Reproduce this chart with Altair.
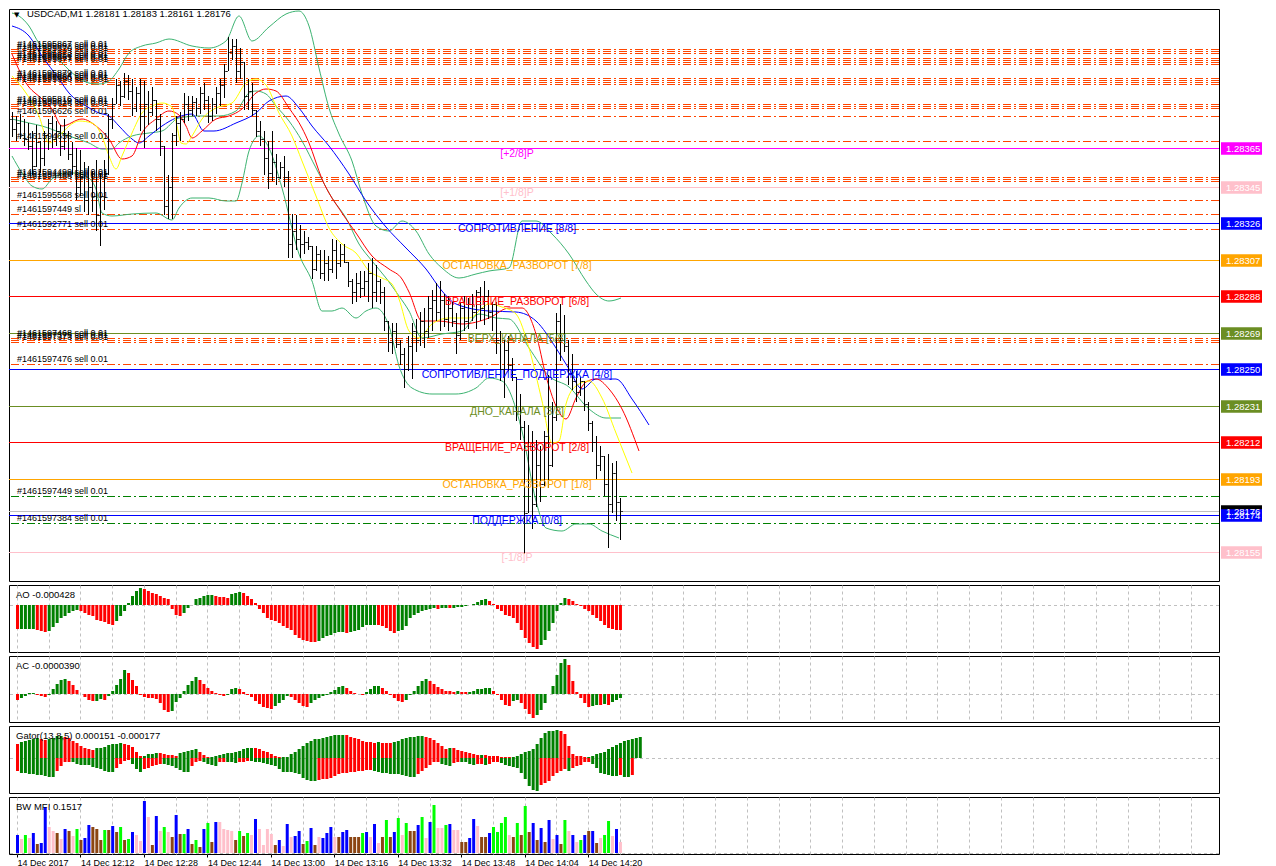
import altair as alt
import pandas as pd

FONT = "Liberation Sans"
BASE = 1.28          # price = BASE + points * PT
PT = 0.00001
MICRO = 0.000001     # indicator values are given in millionths

# ---------------- price bars (points above 1.28000) ----------------
open_pts = [380,375,378,372,370,366,356,368,360,372, 378,370,374,366,372,362,356,345,350,338,
            345,340,330,340,352,380,388,398,392,400, 395,386,394,382,388,384,390,380,366,335,
            345,372,378,380,388,385,389,386,394,390, 382,388,394,398,405,415,418,405,410,392,
            395,385,374,370,360,352,358,350,355,350, 315,322,318,315,316,314,302,310,300,305,
            302,312,305,310,306,296,290,295,292,296, 300,290,296,290,275,264,270,263,258,250,
            262,270,265,275,270,282,286,280,286,276, 282,275,268,282,275,284,280,290,282,288,
            280,284,265,250,260,252,246,228,220,175, 210,180,200,190,215,200,225,275,265,262,
            248,244,238,244,232,222,212,200,205,190, 180,196,181]
high_pts = [384,382,383,380,378,374,377,369,374,380, 382,379,377,380,374,368,365,364,358,356,
            353,359,352,359,383,391,401,400,404,403, 401,397,401,400,395,397,390,383,366,351,
            373,382,384,394,392,392,391,397,399,392, 391,397,401,409,423,422,422,417,410,401,
            399,385,379,374,369,374,362,358,361,353, 331,330,325,322,319,314,314,312,312,309,
            318,317,315,315,306,297,300,301,301,305, 308,304,297,293,275,274,274,265,261,267,
            274,276,280,282,288,291,295,296,289,288, 285,279,285,288,287,289,291,293,296,291,
            285,285,270,265,267,256,246,237,223,221, 218,213,210,218,247,233,279,284,278,265,
            258,249,246,244,233,223,215,210,205,206, 201,202,183]
low_pts = [371,369,370,366,364,351,355,352,356,364, 365,366,361,364,359,351,338,340,332,330,
           332,322,314,333,351,375,388,387,391,390, 382,384,374,365,377,382,374,361,330,328,
           328,366,369,378,379,382,382,383,385,378, 379,383,387,391,405,411,399,401,385,385,
           382,371,366,351,344,348,346,349,345,308, 308,312,308,310,312,297,301,297,296,296,
           300,297,303,305,293,284,285,287,288,285, 282,285,284,270,259,258,261,252,240,249,
           245,259,262,261,266,270,275,270,272,270, 272,258,265,270,271,275,271,275,273,276,
           270,258,244,235,249,244,223,213,154,175, 167,178,181,189,188,199,223,254,259,242,
           239,233,236,228,218,207,193,197,184,157, 175,171,161]
close_pts = [375,378,372,370,366,356,368,360,372,378, 370,374,366,372,362,356,345,350,338,345,
             340,330,340,352,380,388,398,392,400,395, 386,394,382,388,384,390,380,366,335,345,
             372,378,380,388,385,389,386,394,390,382, 388,394,398,405,415,418,405,410,392,395,
             385,374,370,360,352,358,350,355,350,315, 322,318,315,316,314,302,310,300,305,302,
             312,305,310,306,296,290,295,292,296,300, 290,296,290,275,264,270,263,258,250,262,
             270,265,275,270,282,286,280,286,276,282, 275,268,282,275,284,280,290,282,288,280,
             284,265,250,260,252,246,228,220,175,210, 180,200,190,215,200,225,275,265,262,248,
             244,238,244,232,222,212,200,205,190,180, 196,181,176]

# ---------------- indicator lines on the price chart (bar index, points) ----------------
blue_t = [0,4.25,7.5,11.75,14.25,18.5,21.75,24.25,26.75,30,31.75,34.25,37.5,41,45,48,50.5,56,61,64.25,
          68.5,71.75,75,79.25,84.25,88.5,93.5,98.5,103.5,107.5,111,119.25,126,131,136,139.25,142.5,146,151,155,159.25]
blue_pts = [428.6,423.4,413.0,401.1,393.8,387.0,383.4,381.8,376.6,369.8,367.7,371.4,376.6,380.7,382.8,374.0,374.0,378.1,383.4,389.6,
            392.2,386.0,376.6,366.2,351.6,337.5,324.0,313.1,302.1,290.7,284.0,280.3,279.8,275.1,261.0,250.1,239.6,244.9,244.9,234.4,220.9]
red_t = [0,3.5,7.5,10,12.5,17.5,21,24.25,27.5,30,32.5,36,39.25,41.75,43.5,45,47.5,51,54.25,57.5,
         61,63.5,66,69.25,72.5,74.25,77.5,82.5,86,90,94.25,97.5,99.25,102.5,106.75,112.5,119.25,124.25,127.5,131,
         133.5,136,138.5,141,143.5,146,149.25,152.5,156.75]
red_pts = [414.1,399.0,390.6,385.4,376.6,380.2,376.6,369.8,359.4,361.0,372.9,380.2,384.4,382.3,376.6,370.3,374.0,380.2,381.8,385.4,
           393.8,395.8,394.8,386.0,375.5,367.7,349.0,331.3,320.9,308.9,302.1,296.9,290.0,275.1,275.1,273.5,276.6,281.8,281.8,268.3,
           246.4,230.8,224.0,235.0,243.3,244.9,239.7,229.3,207.4]
yellow_t = [0,3.5,6.75,9.25,11.75,14.25,16.75,20,22.5,24.25,26,27.5,30,32.5,35,37.5,40,41.25,42.25,43.5,
            45,47.5,51,55,58.5,61,63.5,66.75,70,72.5,76,79.25,82.5,86,89.25,92.5,95,96.75,99.25,101.75,
            105,109.25,114.25,119.25,122.5,126,129.25,132.5,135,136.75,138.5,141,144.25,147.5,151,155]
yellow_pts = [402.6,393.8,381.8,367.7,371.4,376.6,379.2,378.1,371.4,361.0,354.2,361.0,372.9,383.4,387.0,388.6,386.5,376.6,367.7,367.2,
              371.4,380.2,386.0,388.6,399.0,401.1,397.9,383.4,371.4,358.4,340.1,323.5,315.2,310.5,301.1,297.5,294.3,286.5,269.9,266.2,
              273.5,276.6,276.6,283.9,282.4,278.7,261.0,233.4,211.6,212.6,231.9,241.2,243.8,235.0,216.8,195.9]
bb_up_t = [0,1.75,4.25,6.75,9.25,12.5,16,19.25,21.75,24.25,26.75,29.25,32.5,36,39.25,45,49.25,53.5,56.75,60,
           64.25,68.5,71.75,74.25,76.75,79.25,81.75,85,87.5,91,94.25,97.5,101,104.25,107.5,111.75,116,119.25,124.25,127.5,
           131,135,139.25,143.5,146,149.25,152.25]
bb_up_pts = [435.4,433.9,428.6,419.8,416.7,409.4,402.6,399.0,398.4,400.0,406.3,414.6,418.2,419.8,421.9,418.2,417.2,420.8,433.9,420.8,
             428.1,434.9,436.5,428.6,406.8,386.0,372.4,358.4,341.2,324.5,321.9,327.1,321.9,309.9,302.7,297.5,299.5,301.1,302.7,327.1,
             327.1,320.4,309.9,295.9,289.1,285.5,287.0]
bb_mid_t = [0,4.25,7.5,14.25,19.25,22.5,25,26.75,30,34.25,37.5,41.75,46.75,51.75,56,59.25,61,63.5,66,69.25,
            72.5,76,80,83.5,86.75,90,93.5,96.75,99.25,102.5,107.5,112.5,116.75,121,124.25,129.25,134.25,139.25,144.25,148.5,152.25]
bb_mid_pts = [380.2,378.1,376.6,371.4,367.7,364.6,364.6,367.7,371.4,372.9,374.0,380.7,381.8,381.8,384.4,393.8,394.8,393.2,387.0,379.2,
              368.8,354.7,339.1,328.7,315.2,306.3,297.5,288.1,280.3,266.2,268.3,269.9,278.7,276.6,276.1,261.0,246.4,240.7,229.3,224.6,224.6]
bb_lo_t = [0,2.5,5,7.5,10,13.5,16,18.5,21,22.5,25,30,36,40,41.75,45,49.25,53.5,56,57.5,
           59.25,61.75,64.25,67.5,71.75,75,77.5,80,82.5,86,88.5,91,94.25,96.75,100,105,111,116,119.25,122.5,
           127.5,131,133.5,137.5,141,144.25,147.5,151.75]
bb_lo_pts = [361.0,352.1,345.3,343.8,349.0,352.1,352.1,350.6,343.8,331.3,329.7,330.8,331.3,327.6,333.9,339.1,339.1,337.5,337.5,346.9,
             363.6,371.4,365.1,344.3,310.0,295.9,280.3,280.3,281.8,276.6,280.3,281.8,272.5,251.6,240.2,237.1,237.1,240.2,245.4,243.8,
             217.8,181.4,167.3,165.7,169.4,169.4,165.7,162.1]

# ---------------- Murrey levels ----------------
level_names = ["[+2/8]P", "[+1/8]P", "СОПРОТИВЛЕНИЕ [8/8]", "ОСТАНОВКА_РАЗВОРОТ [7/8]", "ВРАЩЕНИЕ_РАЗВОРОТ [6/8]",
               "ВЕРХ_КАНАЛА [5/8]", "СОПРОТИВЛЕНИЕ_ПОДДЕРЖКА [4/8]", "ДНО_КАНАЛА [3/8]", "ВРАЩЕНИЕ_РАЗВОРОТ [2/8]",
               "ОСТАНОВКА_РАЗВОРОТ [1/8]", "ПОДДЕРЖКА [0/8]", "[-1/8]P"]
level_prices = [1.28365, 1.28345, 1.28326, 1.28307, 1.28288, 1.28269, 1.28250, 1.28231, 1.28212, 1.28193, 1.28174, 1.28155]
level_colors = ["#FF00FF", "#FFC0CB", "#0000FF", "#FFA500", "#FF0000", "#6B8E23", "#0000FF", "#6B8E23", "#FF0000",
                "#FFA500", "#0000FF", "#FFC0CB"]
current_price = 1.28176

# ---------------- order lines ----------------
order_pts = [416.7, 415.6, 414.6, 412.0, 411.0, 409.9, 408.9, 401.6, 400.5, 399.5, 398.5, 388.0, 387.0, 386.0,
             381.8, 368.8, 350.0, 349.0, 348.0, 338.1, 330.8, 323.0, 266.2, 265.2, 264.1, 252.7, 184.0, 169.9]
order_labels = ["#1461595867 sell 0.01", "#1461595862 sell 0.01", "#1461595870 sell 0.01", "#1461595873 sell 0.01",
                "#1461595858 sell 0.01", "#1461595861 sell 0.01", "#1461595877 sell 0.01", "#1461595879 sell 0.01",
                "#1461595884 sell 0.01", "#1461595886 sell 0.01", "#1461595890 sell 0.01", "#1461595816 sell 0.01",
                "#1461595819 sell 0.01", "#1461596626 sell 0.01", "#1461596626 sell 0.01", "#1461594658 sell 0.01",
                "#1461594499 sell 0.01", "#1461594480 sell 0.01", "#1461594488 sell 0.01", "#1461595568 sell 0.01",
                "#1461597449 sl", "#1461592771 sell 0.01", "#1461597468 sell 0.01", "#1461597375 sell 0.01",
                "#1461597373 sell 0.01", "#1461597476 sell 0.01", "#1461597449 sell 0.01", "#1461597384 sell 0.01"]
order_kind = ["sell"] * 26 + ["tp", "tp"]

# ---------------- sub-window indicators (millionths) ----------------
ao = [-405,-400,-399,-398,-396,-416,-445,-462,-445,-371, -302,-217,-177,-131,-103,-86,-103,-131,-160,-188,
      -245,-274,-291,-314,-331,-274,-188,-103,40,154, 239,279,268,239,194,182,154,125,97,-74,
      -160,-188,-131,-46,-6,97,125,154,165,177, 154,143,142,125,182,194,211,200,154,108,
      29,-74,-131,-217,-245,-274,-302,-348,-388,-428, -502,-559,-587,-599,-616,-621,-599,-559,-530,-502,
      -473,-462,-461,-467,-456,-445,-416,-371,-342,-331, -330,-336,-348,-388,-445,-473,-445,-416,-359,-217,
      -160,-131,-103,-86,-63,-51,-63,-51,-46,-51, -46,-40,-29,-17,-6,23,51,85,97,68,
      11,-74,-103,-160,-188,-217,-302,-416,-559,-644, -701,-741,-673,-587,-445,-302,-103,40,125,97,
      68,11,-17,-74,-103,-160,-217,-274,-331,-388, -410,-420,-428]
ac = [-56,-40,-23,7,13,-7,-20,-33,-7,53, 99,142,152,125,86,43,0,-33,-56,-73,
      -66,-46,-59,-23,26,92,152,241,208,142, 76,-7,-33,-40,-41,-46,-89,-155,-182,-172,
      -79,-40,33,92,132,165,142,99,59,26, 7,-7,-17,-7,53,56,46,20,-7,-33,
      -66,-99,-125,-139,-145,-122,-89,-56,-23,-26, -56,-89,-119,-132,-92,-59,-40,-23,-7,20,
      43,73,82,59,26,13,3,-7,20,53, 76,79,59,33,-7,-40,-73,-79,-56,-7,
      33,79,125,148,125,99,73,53,33,26, 20,26,20,17,23,33,46,53,59,63,
      26,-13,-59,-106,-119,-73,-59,-92,-145,-198, -238,-211,-155,-89,0,76,191,307,343,290,
      125,20,-40,-92,-125,-119,-106,-109,-96,-106, -79,-56,-39]
gator_up = [143,171,177,188,194,205,194,188,201,211, 228,229,222,211,177,153,126,99,92,85,
            99,109,119,133,143,150,153,150,133,119, 58,24,25,38,44,48,47,41,34,31,
            24,51,65,75,85,92,58,31,7,14, 24,31,38,48,51,58,75,92,99,106,
            99,92,75,58,41,24,7,10,14,41, 65,92,126,153,174,194,201,211,222,228,
            235,239,242,235,222,211,194,181,171,167, 160,168,161,157,153,167,177,194,208,218,
            222,225,228,222,211,188,160,126,92,109, 99,85,72,58,48,41,31,34,30,24,
            23,17,14,10,7,14,24,38,58,75, 92,143,211,263,280,286,290,280,246,126,
            41,24,17,7,14,24,38,51,65,92, 119,140,151,174,188,201,211,215]
gator_dn = [-135,-152,-159,-170,-171,-172,-181,-188,-195,-196, -135,-81,-46,-39,-46,-64,-74,-75,-76,-89,
            -99,-117,-135,-145,-146,-99,-64,-28,-18,-64, -117,-145,-117,-99,-81,-74,-64,-65,-74,-81,
            -99,-124,-145,-146,-81,-46,-28,-46,-64,-74, -81,-46,-39,-40,-46,-53,-46,-39,-28,-29,
            -39,-46,-53,-64,-74,-81,-117,-145,-146,-147, -152,-170,-205,-230,-241,-242,-230,-223,-216,-205,
            -188,-170,-159,-152,-145,-142,-138,-135,-127,-124, -135,-145,-152,-159,-166,-170,-171,-181,-188,-195,
            -198,-170,-135,-99,-74,-46,-39,-64,-74,-81, -53,-39,-40,-46,-64,-74,-64,-60,-71,-64,
            -46,-39,-53,-74,-81,-89,-99,-152,-223,-294, -329,-347,-276,-258,-241,-188,-152,-135,-117,-135,
            -99,-81,-74,-46,-39,-64,-99,-152,-170,-181, -188,-189,-177,-195,-200,-180]
bw_mfi = [0.2415,0.1888,0.2415,0.1976,0.2678,0.1229,0.1361,0.6058,0.3424,0.2985,
          0.2634,0.1888,0.3205,0.2985,0.2327,0.3205,0.1756,0.2019,0.3732,0.3512,
          0.3161,0.1756,0.3073,0.3073,0.3600,0.2766,0.3424,0.1756,0.1888,0.2766,
          0.2415,0.1668,0.6848,0.4741,0.1141,0.4917,0.2985,0.3424,0.2766,0.2107,
          0.5049,0.2546,0.2546,0.3161,0.1229,0.1756,0.0790,0.3161,0.3995,0.1493,
          0.4127,0.4127,0.3161,0.3073,0.2985,0.1756,0.2897,0.2283,0.2722,0.2415,
          0.4478,0.3161,0.1141,0.3161,0.2546,0.1141,0.1756,0.1010,0.3907,0.2195,
          0.2283,0.2985,0.1229,0.1580,0.3336,0.1141,0.2107,0.2063,0.2722,0.3512,
          0.2151,0.2107,0.2766,0.3073,0.2107,0.2107,0.2107,0.2634,0.2766,0.2107,0.3863,
          0.1405,0.2195,0.4390,0.2107,0.2766,0.4653,0.2415,0.3995,0.2985,0.2985,
          0.3732,0.4829,0.1976,0.4127,0.6409,0.3336,0.3336,0.3775,0.3863,0.3073,
          0.3073,0.1537,0.1537,0.1976,0.4522,0.3644,0.2107,0.2107,0.2722,0.3468,
          0.2854,0.3995,0.4785,0.2415,0.2107,0.3995,0.2415,0.6278,0.2766,0.3995,
          0.1800,0.3293,0.1493,0.4390,0.1888,0.2415,0.1229,0.4390,0.2897,0.2415,
          0.1493,0.1756,0.2415,0.2897,0.2897,0.1361,0.1976,0.2415,0.4258,0.2283,
          0.3161,0.1517]
bw_kind = ["B","P","G","P","B","N","B","B","P","P", "N","P","B","N","P","G","N","B","B","N",
           "N","N","G","N","B","N","G","N","G","B", "P","P","B","P","N","B","P","G","P","N",
           "B","N","G","B","N","G","N","B","G","N", "B","P","P","P","P","N","G","N","G","P",
           "B","P","P","P","P","N","B","P","B","P", "B","B","N","G","B","N","P","B","B","B",
           "P","N","B","B","N","N","N","G","B","P","B", "P","N","G","N","B","G","P","G","N","N",
           "B","G","P","B","G","P","P","G","B","P", "P","N","N","B","B","P","N","N","B","G",
           "G","G","G","P","N","G","N","G","N","B", "N","B","N","B","P","B","N","G","P","B",
           "P","G","B","N","B","N","P","G","G","P", "B","P"]

time_tick_bars = [0, 16, 32, 48, 64, 80, 96, 112, 128, 144]
time_tick_text = ["14 Dec 2017", "14 Dec 12:12", "14 Dec 12:28", "14 Dec 12:44", "14 Dec 13:00",
                  "14 Dec 13:16", "14 Dec 13:32", "14 Dec 13:48", "14 Dec 14:04", "14 Dec 14:20"]
price_ticks = [1.28145, 1.28165, 1.28185, 1.28205, 1.28225, 1.28245, 1.28265, 1.28285,
               1.28305, 1.28325, 1.28345, 1.28365, 1.28385, 1.28405, 1.28425]

title_main = "USDCAD,M1  1.28181 1.28183 1.28161 1.28176"
title_ao = "AO -0.000428"
title_ac = "AC -0.0000390"
title_gt = "Gator(13,8,5) 0.000151 -0.000177"
title_bw = "BW MFI 0.1517"

# ---------------- layout ----------------
W = 1210
H_MAIN, H_AO, H_AC, H_GT, H_BW = 572, 67, 66, 67, 57
XDOM = [-0.75, 301.75]
GRID_STEP = 8
grid_vals = list(range(0, 302, GRID_STEP))
GRID = "#C0C0C0"

xs = alt.Scale(domain=XDOM, nice=False, zero=False)


def price(v):
    return round(BASE + v * PT, 7)


def lab_expr(pos, txt):
    expr = "'" + txt[-1] + "'"
    for k in range(len(pos) - 2, -1, -1):
        thr = (pos[k] + pos[k + 1]) / 2
        expr = "datum.value > %r ? '%s' : (%s)" % (thr, txt[k], expr)
    return expr


def grid_x_axis():
    return alt.Axis(values=grid_vals, grid=True, gridColor=GRID, gridDash=[3, 3], gridWidth=1,
                    labels=False, ticks=False, domain=False, title=None)


def sub_y_axis(pos, txt):
    return alt.Axis(orient="right", values=pos, labelExpr=lab_expr(pos, txt), grid=False, domain=False,
                    tickSize=3, tickColor="black", labelPadding=2, labelFont=FONT, labelFontSize=9.5,
                    labelColor="black", title=None, labelOverlap=False)


# ---------------- main price window ----------------
N = len(close_pts)
bars = pd.DataFrame({
    "i": list(range(N)),
    "o": [price(v) for v in open_pts],
    "h": [price(v) for v in high_pts],
    "l": [price(v) for v in low_pts],
    "c": [price(v) for v in close_pts],
})

series = [("bb_up", bb_up_t, bb_up_pts), ("bb_mid", bb_mid_t, bb_mid_pts), ("bb_lo", bb_lo_t, bb_lo_pts),
          ("jaw", blue_t, blue_pts), ("teeth", red_t, red_pts), ("lips", yellow_t, yellow_pts)]
rows = []
for name, ts, ps in series:
    for t, p in zip(ts, ps):
        rows.append({"s": name, "t": t, "p": price(p)})
lines = pd.DataFrame(rows)

orders = pd.DataFrame({"p": [price(v) for v in order_pts], "lab": order_labels, "k": order_kind})
levels = pd.DataFrame({"p": level_prices, "name": level_names, "col": level_colors})
cur = pd.DataFrame({"p": [current_price]})
tags = pd.DataFrame({"p": [current_price] + level_prices, "col": ["#000000"] + level_colors})

# round=True puts every price on a whole pixel so the 1px lines stay crisp, as in the terminal
ys_main = alt.Scale(domain=[1.281397, 1.284375], nice=False, zero=False, round=True)


def Ymain(f, **kw):
    return alt.Y(f, type="quantitative", scale=ys_main, axis=None, **kw)


main_y_axis = alt.Axis(orient="right", values=price_ticks, format=".5f", grid=True, gridColor=GRID,
                       gridDash=[3, 3], domain=False, tickSize=4, tickColor="black", labelPadding=3,
                       labelFont=FONT, labelFontSize=9.5, labelColor="black", title=None, labelOverlap=False)

sell_lines = alt.Chart(orders).transform_filter("datum.k == 'sell'").mark_rule(
    strokeWidth=1, strokeDash=[8, 3, 2, 3], color="#FF4500", yOffset=0.5).encode(
    y=alt.Y("p:Q", scale=ys_main, axis=main_y_axis))
tp_lines = alt.Chart(orders).transform_filter("datum.k == 'tp'").mark_rule(
    strokeWidth=1, strokeDash=[8, 3, 2, 3], color="#008000", yOffset=0.5).encode(y=Ymain("p"))
level_layer = alt.Chart(levels).mark_rule(strokeWidth=1, yOffset=0.5).encode(
    y=Ymain("p"), stroke=alt.Stroke("col:N", scale=None))
cur_layer = alt.Chart(cur).mark_rule(strokeWidth=1, color=GRID, yOffset=0.5).encode(y=Ymain("p"))
line_layer = alt.Chart(lines).mark_line(strokeWidth=1, interpolate="monotone", clip=True).encode(
    x=alt.X("t:Q", scale=xs, axis=grid_x_axis()),
    y=Ymain("p"),
    stroke=alt.Stroke("s:N", scale=alt.Scale(domain=["bb_up", "bb_mid", "bb_lo", "jaw", "teeth", "lips"],
                                             range=["#3CB371", "#3CB371", "#3CB371", "#0000FF", "#FF0000", "#FFFF00"]),
                      legend=None),
    detail="s:N",
    order="t:Q")
hl_layer = alt.Chart(bars).mark_rule(color="black", strokeWidth=1, xOffset=0.5).encode(
    x=alt.X("i:Q", scale=xs, axis=None), y=Ymain("l"), y2="h:Q")
open_layer = alt.Chart(bars).mark_tick(orient="horizontal", size=2, thickness=1, color="black",
                                       xOffset=-1, yOffset=0.5).encode(
    x=alt.X("i:Q", scale=xs, axis=None), y=Ymain("o"))
close_layer = alt.Chart(bars).mark_tick(orient="horizontal", size=2, thickness=1, color="black",
                                        xOffset=2, yOffset=0.5).encode(
    x=alt.X("i:Q", scale=xs, axis=None), y=Ymain("c"))
level_text = alt.Chart(levels).mark_text(align="center", baseline="top", dy=1, font=FONT, fontSize=10.5).encode(
    x=alt.value(508), y=Ymain("p"), text="name:N", fill=alt.Fill("col:N", scale=None))
order_text = alt.Chart(orders).mark_text(align="left", baseline="alphabetic", dy=-2, font=FONT, fontSize=9,
                                         color="black").encode(
    x=alt.value(8), y=Ymain("p"), text="lab:N")
title_tri = alt.Chart(pd.DataFrame({"t": ["\u25BC"]})).mark_text(align="left", baseline="top", font="DejaVu Sans",
                                                                 fontSize=7, color="black").encode(
    x=alt.value(5), y=alt.value(2), text="t:N")
title_text = alt.Chart(pd.DataFrame({"t": [title_main]})).mark_text(align="left", baseline="top", font=FONT,
                                                                   fontSize=9.5, color="black").encode(
    x=alt.value(18), y=alt.value(0), text="t:N")
TAG_PATH = "M-1,-0.3L1,-0.3L1,0.3L-1,0.3Z"
tag_box = alt.Chart(tags).mark_point(shape=TAG_PATH, size=41 * 41, filled=True, opacity=1, strokeWidth=0,
                                     yOffset=0.5).encode(
    x=alt.value(W + 22.5), y=Ymain("p"), fill=alt.Fill("col:N", scale=None))
tag_text = alt.Chart(tags).mark_text(align="left", baseline="middle", font=FONT, fontSize=9.5, color="white",
                                     dy=1).encode(
    x=alt.value(W + 7), y=Ymain("p"), text=alt.Text("p:Q", format=".5f"))

main = alt.layer(sell_lines, tp_lines, level_layer, cur_layer, line_layer, hl_layer, open_layer, close_layer,
                 level_text, order_text, title_tri, title_text, tag_box, tag_text).resolve_scale(
    color="independent", fill="independent", stroke="independent").properties(width=W, height=H_MAIN)


# ---------------- sub windows ----------------
UPDN = alt.Scale(domain=["up", "dn"], range=["#008000", "#FF0000"])


def colored_bars(values, ys, yaxis, xaxis, absolute=False):
    df = pd.DataFrame({"i": list(range(len(values))), "v": [v * MICRO for v in values]})
    if absolute:
        test = "datum.prev == null ? 'dn' : (abs(datum.v) > abs(datum.prev) ? 'up' : 'dn')"
    else:
        test = "datum.prev == null ? 'dn' : (datum.v > datum.prev ? 'up' : 'dn')"
    return alt.Chart(df).transform_window(prev="lag(v)", sort=[alt.SortField("i")]).transform_calculate(
        col=test).mark_bar(size=3, xOffset=0.5).encode(
        x=alt.X("i:Q", scale=xs, axis=xaxis),
        y=alt.Y("v:Q", scale=ys, axis=yaxis),
        y2=alt.datum(0),
        fill=alt.Fill("col:N", scale=UPDN, legend=None))


def zero_rule(ys):
    return alt.Chart(pd.DataFrame({"z": [0.0]})).mark_rule(color=GRID, strokeDash=[3, 3], strokeWidth=1,
                                                          yOffset=0.5).encode(
        y=alt.Y("z:Q", scale=ys, axis=None))


def panel_title(txt):
    return alt.Chart(pd.DataFrame({"t": [txt]})).mark_text(align="left", baseline="middle", font=FONT,
                                                          fontSize=9.5, color="black").encode(
        x=alt.value(7), y=alt.value(10), text="t:N")


ao_dom = [-0.000791, 0.000337]
ao_lab_pos = [0.000219, 0.0, -0.000673]
ao_lab_txt = ["0.0003", "0.00", "-0.000741"]
ys_ao = alt.Scale(domain=ao_dom, nice=False, zero=False, round=True)
ao_chart = alt.layer(zero_rule(ys_ao),
                     colored_bars(ao, ys_ao, sub_y_axis(ao_lab_pos, ao_lab_txt), grid_x_axis()),
                     panel_title(title_ao)).properties(width=W, height=H_AO)

ac_dom = [-0.000277, 0.000376]
ac_lab_pos = [0.000307, 0.0, -0.000198]
ac_lab_txt = ["0.000340", "0.00", "-0.000244"]
ys_ac = alt.Scale(domain=ac_dom, nice=False, zero=False, round=True)
ac_chart = alt.layer(zero_rule(ys_ac),
                     colored_bars(ac, ys_ac, sub_y_axis(ac_lab_pos, ac_lab_txt), grid_x_axis()),
                     panel_title(title_ac)).properties(width=W, height=H_AC)

gt_dom = [-0.000364, 0.000333]
gt_lab_pos = [0.000271, 0.0, -0.000291]
gt_lab_txt = ["0.000331", "0.00", "-0.000354"]
ys_gt = alt.Scale(domain=gt_dom, nice=False, zero=False, round=True)
gt_chart = alt.layer(zero_rule(ys_gt),
                     colored_bars(gator_up, ys_gt, sub_y_axis(gt_lab_pos, gt_lab_txt), grid_x_axis(), absolute=True),
                     colored_bars(gator_dn, ys_gt, None, None, absolute=True),
                     panel_title(title_gt)).properties(width=W, height=H_GT)

bw_dom = [-0.01, 0.741]
bw_lab_pos = [0.623, 0.083]
bw_lab_txt = ["0.6848", "0"]
ys_bw = alt.Scale(domain=bw_dom, nice=False, zero=False, round=True)
time_arr = "[" + ",".join("'" + t + "'" for t in time_tick_text) + "]"
last_tick = time_tick_bars[-1]
step = time_tick_bars[1] - time_tick_bars[0]
time_axis = alt.Axis(values=grid_vals, grid=True, gridColor=GRID, gridDash=[3, 3], domain=False,
                     labelExpr="(datum.value %% %d == 0 && datum.value <= %d) ? %s[datum.value / %d] : ''"
                               % (step, last_tick, time_arr, step),
                     labelAlign="left", labelFlush=False, labelOverlap=False, labelPadding=1,
                     labelFont=FONT, labelFontSize=9, labelColor="black",
                     tickSize=3, tickColor="black",
                     tickOpacity={"condition": {"test": "datum.value %% %d == 0 && datum.value <= %d" % (step, last_tick),
                                                "value": 1}, "value": 0},
                     title=None)
bw_df = pd.DataFrame({"i": list(range(len(bw_mfi))), "v": bw_mfi, "k": bw_kind})
bw_bars = alt.Chart(bw_df).mark_bar(size=3, xOffset=0.5).encode(
    x=alt.X("i:Q", scale=xs, axis=time_axis),
    y=alt.Y("v:Q", scale=ys_bw, axis=sub_y_axis(bw_lab_pos, bw_lab_txt)),
    y2=alt.datum(0),
    fill=alt.Fill("k:N", scale=alt.Scale(domain=["G", "B", "P", "N"],
                                         range=["#00FF00", "#0000FF", "#FFC0CB", "#8B4513"]), legend=None))
bw_chart = alt.layer(zero_rule(ys_bw), bw_bars, panel_title(title_bw)).properties(width=W, height=H_BW)

chart = alt.vconcat(main, ao_chart, ac_chart, gt_chart, bw_chart, spacing=2).resolve_scale(
    color="independent", fill="independent", stroke="independent").properties(
    padding=0, background="white").configure_view(stroke="black", strokeWidth=1)

chart.save("out.html", embed_options={"renderer": "svg", "actions": False})
